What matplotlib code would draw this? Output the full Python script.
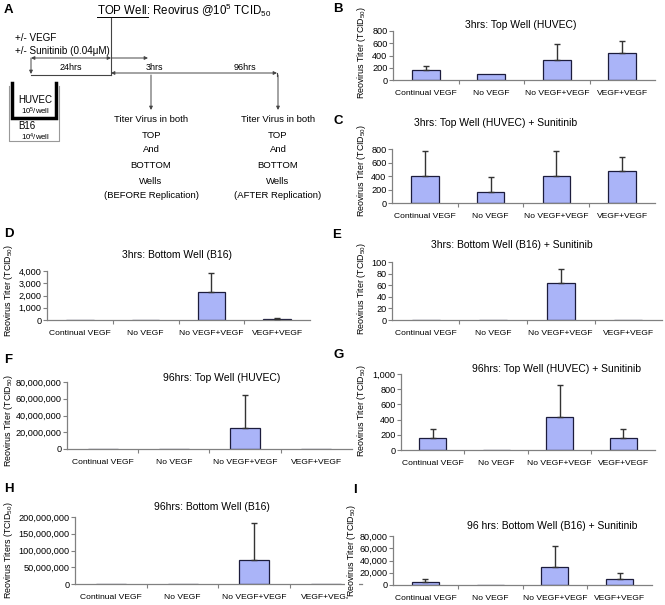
import matplotlib
matplotlib.use("Agg")
import matplotlib.pyplot as plt
from matplotlib.ticker import FuncFormatter, MultipleLocator, FixedLocator

plt.rcParams['font.family'] = ['Liberation Sans', 'DejaVu Sans']
plt.rcParams['mathtext.default'] = 'regular'

W, H = 665, 605

categories = ["Continual VEGF", "No VEGF", "No VEGF+VEGF", "VEGF+VEGF"]

b_vals = [170, 100, 330, 440]
b_err = [55, 0, 250, 200]
c_vals = [400, 170, 400, 470]
c_err = [370, 210, 370, 210]
d_vals = [0, 0, 2300, 60]
d_err = [0, 0, 1550, 120]
e_vals = [0, 0, 63, 0]
e_err = [0, 0, 25, 0]
f_vals = [0, 0, 25e6, 0]
f_err = [0, 0, 39e6, 0]
g_vals = [160, 0, 430, 160]
g_err = [120, 0, 430, 120]
h_vals = [0, 0, 72e6, 0]
h_err = [0, 0, 111e6, 0]
i_vals = [5000, 0, 30000, 10000]
i_err = [5000, 0, 34000, 9000]

BAR = '#aab4f8'
EDGE = '#1c1c3c'
AX = '#808080'
XFS = 6.1
YTFS = 6.6
TFS = 7.5
YFS = 6.4

fig = plt.figure(figsize=(W / 100, H / 100), dpi=100)

# overlay for diagram and free text (pixel coordinates), drawn on top
ov = fig.add_axes([0, 0, 1, 1])
ov.set_xlim(0, W)
ov.set_ylim(H, 0)
ov.axis('off')
ov.set_zorder(10)


def panel(left, right, top, bottom, vals, errs, ymax, step, title, tpos,
          ylabel, ypos, letter, lpos, ybg=False):
    ax = fig.add_axes([left / W, 1 - bottom / H, (right - left) / W, (bottom - top) / H])
    ax.patch.set_alpha(0)
    x = list(range(len(categories)))
    ax.bar(x, vals, width=0.42, color=BAR, edgecolor=EDGE, linewidth=0.9, zorder=2)
    ex = [i for i in x if errs[i] > 0]
    if ex:
        ax.errorbar(ex, [vals[i] for i in ex],
                    yerr=[[0] * len(ex), [errs[i] for i in ex]],
                    fmt='none', ecolor='#333333', elinewidth=1.0, capsize=2.5,
                    capthick=1.0, zorder=3)
    ax.set_xlim(-0.5, 3.5)
    ax.set_ylim(0, ymax)
    ax.yaxis.set_major_locator(MultipleLocator(step))
    ax.yaxis.set_major_formatter(FuncFormatter(lambda v, p: f"{int(round(v)):,}"))
    ax.set_xticks(x)
    ax.set_xticklabels(categories)
    ax.xaxis.set_minor_locator(FixedLocator([0.5, 1.5, 2.5]))
    ax.tick_params(axis='x', which='major', length=0, labelsize=XFS, pad=7)
    ax.tick_params(axis='x', which='minor', length=3, color=AX, width=0.8)
    ax.tick_params(axis='y', length=3, color=AX, width=0.8, labelsize=YTFS, pad=1)
    for s in ['top', 'right']:
        ax.spines[s].set_visible(False)
    for s in ['left', 'bottom']:
        ax.spines[s].set_color(AX)
        ax.spines[s].set_linewidth(0.9)
    ov.text(tpos[0], tpos[1], title, fontsize=TFS, ha='center', va='center')
    kw = {}
    if ybg:
        kw['bbox'] = dict(facecolor='white', edgecolor='none', pad=0.5)
    ov.text(ypos[0], ypos[1], ylabel, fontsize=YFS, rotation=90, ha='center', va='center', **kw)
    ov.text(lpos[0], lpos[1], letter, fontsize=9.5, fontweight='bold', ha='left', va='center')
    return ax


YL = "Reovirus Titer (TCID$_{50}$)"
panel(393, 655, 31, 80, b_vals, b_err, 800, 200, "3hrs: Top Well (HUVEC)", (521, 25),
      YL, (362, 52), "B", (333, 9))
panel(392, 655, 149, 203, c_vals, c_err, 800, 200, "3hrs: Top Well (HUVEC) + Sunitinib", (496, 123),
      YL, (361, 170), "C", (333, 121))
panel(47, 310, 271, 320, d_vals, d_err, 4000, 1000, "3hrs: Bottom Well (B16)", (177, 255),
      YL, (9, 290), "D", (4, 234))
panel(392, 662, 262, 320, e_vals, e_err, 100, 20, "3hrs: Bottom Well (B16) + Sunitinib", (512, 245),
      YL, (362, 288), "E", (332, 235))
panel(67, 352, 382, 449, f_vals, f_err, 80e6, 20e6, "96hrs: Top Well (HUVEC)", (222, 378),
      YL, (9, 420), "F", (4, 360))
panel(401, 655, 374, 450, g_vals, g_err, 1000, 200, "96hrs: Top Well (HUVEC) + Sunitinib", (557, 369),
      YL, (362, 410), "G", (333, 355))
panel(75, 362, 517, 584, h_vals, h_err, 200e6, 50e6, "96hrs: Bottom Well (B16)", (212, 507),
      "Reovirus Titers (TCID$_{50}$)", (9, 550), "H", (4, 489))
panel(393, 652, 536, 585, i_vals, i_err, 80000, 20000, "96 hrs: Bottom Well (B16) + Sunitinib", (552, 526),
      YL, (352, 550), "I", (353, 490), ybg=True)

# ---------- Panel A diagram ----------
ov.text(4, 10, "A", fontsize=9.5, fontweight='bold', ha='left', va='center')
ov.text(97, 10, "TOP Well: Reovirus @10$^{5}$ TCID$_{50}$", fontsize=8.3, ha='left', va='center')
ov.plot([97, 148], [16.5, 16.5], color='black', lw=0.7)
ov.plot([111, 111], [18, 75], color='#444444', lw=0.8)
ov.text(15, 38, "+/- VEGF", fontsize=7.1, ha='left', va='center')
ov.text(15, 51, "+/- Sunitinib (0.04\u03bcM)", fontsize=7.1, ha='left', va='center')

ak = dict(arrowstyle='<|-|>', color='#444444', lw=0.7, mutation_scale=5, shrinkA=0, shrinkB=0)
ok = dict(arrowstyle='-|>', color='#444444', lw=0.7, mutation_scale=5, shrinkA=0, shrinkB=0)
ov.annotate('', xy=(31, 58), xytext=(111, 58), arrowprops=ak)
ov.annotate('', xy=(148, 58), xytext=(111, 58), arrowprops=ok)
ov.annotate('', xy=(31, 74), xytext=(31, 58), arrowprops=ok)
ov.plot([31, 111], [75, 75], color='#444444', lw=0.8)
ov.annotate('', xy=(277, 73), xytext=(111, 73), arrowprops=ak)
ov.plot([277, 277], [73, 76], color='#444444', lw=0.8)
ov.annotate('', xy=(151, 110), xytext=(151, 75), arrowprops=ok)
ov.annotate('', xy=(278, 110), xytext=(278, 75), arrowprops=ok)
ov.text(71, 68, "24hrs", fontsize=6.5, ha='center', va='center')
ov.text(154, 68, "3hrs", fontsize=6.5, ha='center', va='center')
ov.text(245, 68, "96hrs", fontsize=6.5, ha='center', va='center')

for xc, last in [(151, "(BEFORE Replication)"), (278, "(AFTER Replication)")]:
    for yy, t in zip([119, 135, 150, 166, 181, 196],
                     ["Titer Virus in both", "TOP", "And", "BOTTOM", "Wells", last]):
        ov.text(xc, yy, t, fontsize=6.8, ha='center', va='center')

# wells
ov.plot([9, 9, 59, 59], [86, 141, 141, 86], color='#999999', lw=0.8)
ov.plot([12, 12, 56, 56], [83, 118, 118, 83], color='black', lw=2.5, solid_joinstyle='miter')
ov.text(35, 100, "HUVEC", fontsize=7, ha='center', va='center')
ov.text(35, 111, "10$^{5}$/well", fontsize=5.6, ha='center', va='center')
ov.text(27, 126, "B16", fontsize=7, ha='center', va='center')
ov.text(35, 137, "10$^{4}$/well", fontsize=5.6, ha='center', va='center')

fig.savefig("out.png", dpi=100)
